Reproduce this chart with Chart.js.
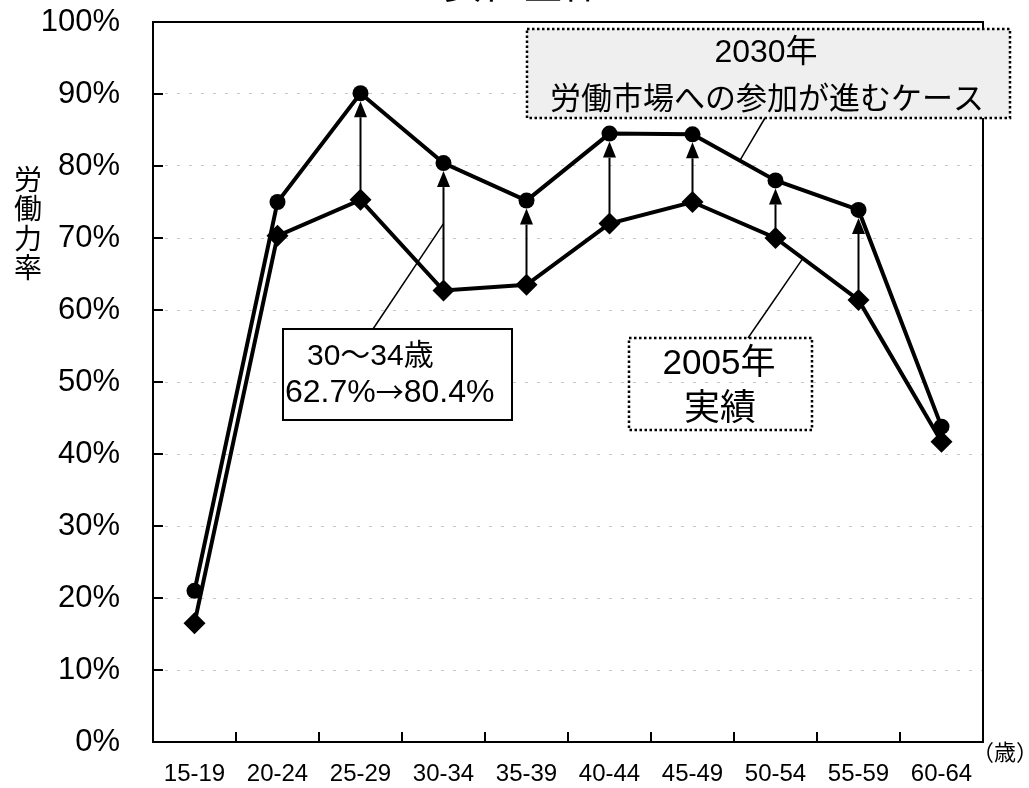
<!DOCTYPE html>
<html><head><meta charset="utf-8">
<script src="https://cdn.jsdelivr.net/npm/chart.js@4.4.1/dist/chart.umd.min.js"></script>
<style>html,body{margin:0;padding:0;background:#fff;}canvas{display:block;}</style>
</head><body>
<canvas id="c" width="1029" height="788"></canvas>
<script>
// ---- data ----
const categories = ['15-19','20-24','25-29','30-34','35-39','40-44','45-49','50-54','55-59','60-64'];
const rate2005 = [16.5, 70.3, 75.3, 62.7, 63.5, 72.0, 75.0, 70.0, 61.4, 41.7];
const rate2030 = [21.0, 75.0, 90.1, 80.4, 75.2, 84.5, 84.4, 78.0, 73.9, 43.8];
const arrowIndexes = [2, 3, 4, 5, 6, 7, 8];
const chartTitle = '女性全体';
const yAxisTitle = ['労', '働', '力', '率'];
const xAxisUnit = '（歳）';
const note3034 = ['30～34歳', ['62.7%', '→', '80.4%']];
const label2030 = ['2030年', '労働市場への参加が進むケース'];
const label2005 = ['2005年', '実績'];

const FONT = "'Liberation Sans', 'Noto Sans CJK JP', sans-serif";
const CJK = "'Noto Sans CJK JP', sans-serif";

function txt(ctx, s, x, y, size, align, fam) {
  ctx.font = size + 'px ' + (fam || FONT);
  ctx.textAlign = align || 'center';
  ctx.textBaseline = 'middle';
  ctx.fillStyle = '#000';
  ctx.fillText(s, x, y);
  return ctx.measureText(s).width;
}
function dottedRect(ctx, x0, y0, x1, y1, fill) {
  ctx.save();
  if (fill) { ctx.fillStyle = fill; ctx.fillRect(x0, y0, x1 - x0, y1 - y0); }
  ctx.setLineDash([2.5, 2.5]);
  ctx.lineWidth = 2.5;
  ctx.strokeStyle = '#000';
  ctx.strokeRect(x0, y0, x1 - x0, y1 - y0);
  ctx.restore();
}
function line(ctx, x0, y0, x1, y1, w) {
  ctx.beginPath(); ctx.lineWidth = w; ctx.moveTo(x0, y0); ctx.lineTo(x1, y1); ctx.stroke();
}
function onSegment(x, y, arr, i, t) {
  const xa = x.getPixelForValue(i), xb = x.getPixelForValue(i + 1);
  const ya = y.getPixelForValue(arr[i]), yb = y.getPixelForValue(arr[i + 1]);
  return [xa + (xb - xa) * t, ya + (yb - ya) * t];
}

const decor = {
  id: 'decor',
  beforeDraw(chart) {
    const ctx = chart.ctx;
    ctx.save(); ctx.fillStyle = '#fff'; ctx.fillRect(0, 0, chart.width, chart.height); ctx.restore();
  },
  beforeDatasetsDraw(chart) {
    const { ctx, chartArea: a, scales: { x, y } } = chart;
    ctx.save();
    ctx.strokeStyle = '#000'; ctx.fillStyle = '#000';
    ctx.lineWidth = 2;
    ctx.strokeRect(a.left, a.top, a.right - a.left, a.bottom - a.top);
    y.ticks.forEach(t => {
      const py = y.getPixelForValue(t.value);
      line(ctx, a.left, py, a.left + 10, py, 2);
    });
    for (let i = 1; i < categories.length; i++) {
      const px = x.getPixelForValue(i - 0.5);
      line(ctx, px, a.bottom, px, a.bottom - 10, 2);
    }
    arrowIndexes.forEach(i => {
      const px = x.getPixelForValue(i);
      const yStart = y.getPixelForValue(rate2005[i]) - 10;
      const tip = y.getPixelForValue(rate2030[i]) + 8;
      const base = tip + 16;
      line(ctx, px, yStart, px, base, 2);
      ctx.beginPath();
      ctx.moveTo(px, tip); ctx.lineTo(px - 6.5, base); ctx.lineTo(px + 6.5, base); ctx.closePath();
      ctx.fill();
    });
    ctx.restore();
  },
  afterDraw(chart) {
    const { ctx, scales: { x, y } } = chart;
    ctx.save();
    ctx.strokeStyle = '#000';
    // chart title (cut off at top)
    ctx.font = '40px ' + FONT; ctx.textAlign = 'center'; ctx.textBaseline = 'ideographic'; ctx.fillStyle = '#000';
    ctx.fillText(chartTitle, 523, 6);
    // y-axis title
    yAxisTitle.forEach((c, k) => txt(ctx, c, 28, 182 + k * 29.5, 28));
    // unit
    txt(ctx, xAxisUnit, 972, 752, 22, 'left', CJK);
    // 30-34 note box
    ctx.save();
    ctx.fillStyle = '#fff'; ctx.fillRect(283, 329, 229, 91);
    ctx.lineWidth = 2; ctx.strokeRect(283, 329, 229, 91);
    ctx.restore();
    const p1 = [x.getPixelForValue(3), y.getPixelForValue(72)];
    line(ctx, 373, 329, p1[0], p1[1], 1.5);
    txt(ctx, note3034[0], 307, 357, 30, 'left');
    let cx = 285;
    cx += txt(ctx, note3034[1][0], cx, 393, 32, 'left');
    cx += txt(ctx, note3034[1][1], cx, 392, 28, 'left', CJK);
    txt(ctx, note3034[1][2], cx, 393, 32, 'left');
    // 2030 label
    dottedRect(ctx, 527, 29, 1010, 118, '#efefef');
    const p2 = onSegment(x, y, rate2030, 6, 0.57);
    line(ctx, 765, 118, p2[0], p2[1], 1.5);
    txt(ctx, label2030[0], 766, 53, 32);
    txt(ctx, label2030[1], 767, 100, 31);
    // 2005 label
    dottedRect(ctx, 629, 338, 812, 430, null);
    const p3 = onSegment(x, y, rate2005, 7, 0.33);
    line(ctx, 748, 338, p3[0], p3[1], 1.5);
    txt(ctx, label2005[0], 719, 364, 35);
    txt(ctx, label2005[1], 720, 410, 36);
    ctx.restore();
  }
};

function noPad(s) { s.paddingTop = 0; s.paddingBottom = 0; s.paddingLeft = 0; s.paddingRight = 0; }

new Chart(document.getElementById('c'), {
  type: 'line',
  data: {
    labels: categories,
    datasets: [
      { label: '2030年', data: rate2030, borderColor: '#000', backgroundColor: '#000', borderWidth: 4,
        pointStyle: 'circle', pointRadius: 8, pointBackgroundColor: '#000', pointBorderWidth: 0, tension: 0 },
      { label: '2005年', data: rate2005, borderColor: '#000', backgroundColor: '#000', borderWidth: 4,
        pointStyle: 'rectRot', pointRadius: 11, pointBackgroundColor: '#000', pointBorderWidth: 0, tension: 0 }
    ]
  },
  options: {
    responsive: false,
    animation: false,
    devicePixelRatio: 1,
    layout: { padding: { top: 22, right: 46, left: 0, bottom: 0 } },
    plugins: { legend: { display: false }, tooltip: { enabled: false }, title: { display: false } },
    scales: {
      x: {
        offset: true,
        grid: { display: false, drawTicks: false },
        border: { display: false },
        ticks: { color: '#000', font: { family: FONT, size: 24 }, padding: 18, maxRotation: 0, autoSkip: false },
        afterFit(s) { s.height = 46; noPad(s); }
      },
      y: {
        min: 0, max: 100,
        grid: { color: 'rgba(0,0,0,0.22)', lineWidth: 1, drawTicks: false },
        border: { display: false, dash: [3, 9] },
        ticks: { stepSize: 10, color: '#000', font: { family: FONT, size: 31 }, padding: 33,
                 callback: v => v + '%' },
        afterFit(s) { s.width = 153; noPad(s); }
      }
    }
  },
  plugins: [decor]
});
</script>
</body></html>
